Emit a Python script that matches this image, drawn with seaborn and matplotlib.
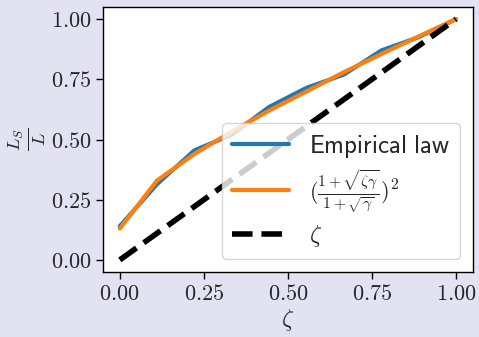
import numpy as np
import pandas as pd
import matplotlib
matplotlib.use("Agg")
import matplotlib.pyplot as plt
import seaborn as sns

zeta = [0.0, 0.111, 0.222, 0.333, 0.444, 0.556, 0.667, 0.778, 0.889, 1.0]
empirical = [0.14, 0.315, 0.455, 0.52, 0.635, 0.715, 0.77, 0.87, 0.925, 1.0]
formula = [0.13, 0.33, 0.44, 0.533, 0.62, 0.70, 0.78, 0.855, 0.928, 1.0]
identity = [0.0, 1.0]
identity_x = [0.0, 1.0]
xticks = [0.0, 0.25, 0.5, 0.75, 1.0]
yticks = [0.0, 0.25, 0.5, 0.75, 1.0]
tick_labels = ["0.00", "0.25", "0.50", "0.75", "1.00"]

sns.set_style("ticks")
plt.rcParams["mathtext.fontset"] = "cm"
plt.rcParams["font.family"] = ["DejaVu Sans"]

bg = "#e2e2f3"
fig = plt.figure(figsize=(4.79, 3.37), dpi=100, facecolor=bg)
ax = fig.add_axes([0.215, 0.193, 0.772, 0.786])
ax.set_facecolor("white")

df_e = pd.DataFrame({"x": zeta, "y": empirical})
df_f = pd.DataFrame({"x": zeta, "y": formula})
df_i = pd.DataFrame({"x": identity_x, "y": identity})

sns.lineplot(data=df_e, x="x", y="y", ax=ax, color="#1f77b4", lw=3.0,
             label=r"$\mathsf{Empirical\ law}$")
sns.lineplot(data=df_f, x="x", y="y", ax=ax, color="#ff7f0e", lw=3.0,
             label=r"$(\frac{1+\sqrt{\zeta\gamma}}{1+\sqrt{\gamma}})^2$")
sns.lineplot(data=df_i, x="x", y="y", ax=ax, color="black", lw=4,
             linestyle="--", label=r"$\zeta$")

ax.set_xlim(-0.05, 1.05)
ax.set_ylim(-0.05, 1.05)
ax.set_xticks(xticks)
ax.set_yticks(yticks)
ax.set_xticklabels(["$" + t + "$" for t in tick_labels])
ax.set_yticklabels(["$" + t + "$" for t in tick_labels])
ax.tick_params(axis="both", labelsize=16, length=5, width=1, color="black",
               direction="out")
for s in ax.spines.values():
    s.set_visible(True)
    s.set_color("black")
    s.set_linewidth(1.0)

ax.set_xlabel(r"$\zeta$", fontsize=17, labelpad=2)
ax.set_ylabel(r"$\frac{L_S}{L}$", fontsize=19, labelpad=2)

leg = ax.legend(loc="lower right", fontsize=18, framealpha=0.8,
                edgecolor="#cccccc", fancybox=True, handlelength=2.3,
                borderaxespad=0.5, labelspacing=0.35)
leg.get_texts()[1].set_fontsize(16)
leg.get_texts()[2].set_fontsize(17)
leg.get_frame().set_linewidth(1.0)

fig.savefig("out.png", dpi=100, facecolor=bg)
